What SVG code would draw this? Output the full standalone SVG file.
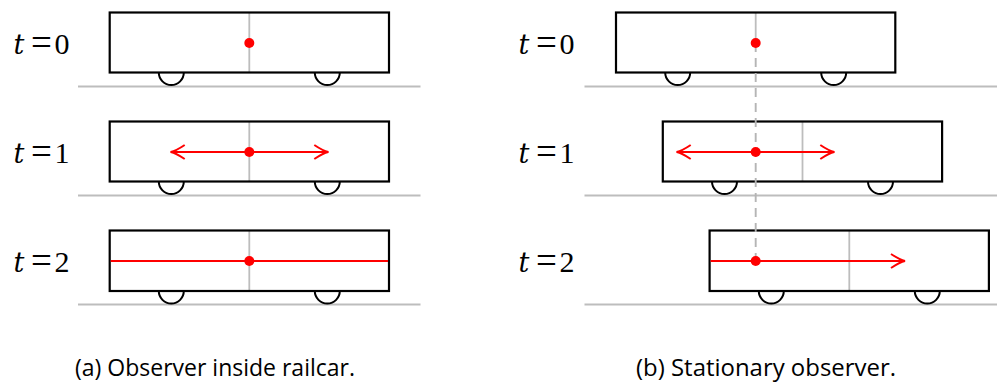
<svg xmlns="http://www.w3.org/2000/svg" width="997" height="383" viewBox="0 0 997 383">
<style>
.bg{fill:#ffffff}
.car{fill:none;stroke:#000;stroke-width:2.2}
.wheel{fill:none;stroke:#000;stroke-width:2}
.mid{stroke:#bdbdbd;stroke-width:1.8;fill:none}
.ground{stroke:#bdbdbd;stroke-width:1.8;fill:none}
.dash{stroke:#b5b5b5;stroke-width:1.9;fill:none;stroke-dasharray:9 6}
.ray{stroke:#ff0000;stroke-width:2;fill:none}
.dot{fill:#ff0000}
.lbl{font-family:"Liberation Serif","DejaVu Serif",serif;font-size:30px;fill:#000;text-anchor:middle}
.it{font-family:"DejaVu Serif","Liberation Serif",serif;font-style:italic;font-size:27px}
.eq{font-size:37px}
.cap{font-family:"Open Sans","Noto Sans",sans-serif;font-size:24px;fill:#000}
</style>
<defs>
<marker id="ah" viewBox="-16 -9 18 18" refX="0" refY="0" markerWidth="18" markerHeight="18" markerUnits="userSpaceOnUse" orient="auto-start-reverse">
<path d="M-14,-7 Q-5,-1 0,0 Q-5,1 -14,7" fill="none" stroke="#ff0000" stroke-width="2"/>
</marker>
</defs>
<rect class="bg" x="0" y="0" width="997" height="383"/>

<g id="labels">
<text class="lbl it" x="19" y="54">t</text><text class="lbl eq" x="41.5" y="55">=</text><text class="lbl" x="62" y="54">0</text>
<text class="lbl it" x="19" y="163">t</text><text class="lbl eq" x="41.5" y="164">=</text><text class="lbl" x="62" y="163">1</text>
<text class="lbl it" x="19" y="272">t</text><text class="lbl eq" x="41.5" y="273">=</text><text class="lbl" x="62" y="272">2</text>
<text class="lbl it" x="524" y="54">t</text><text class="lbl eq" x="546.5" y="55">=</text><text class="lbl" x="567" y="54">0</text>
<text class="lbl it" x="524" y="163">t</text><text class="lbl eq" x="546.5" y="164">=</text><text class="lbl" x="567" y="163">1</text>
<text class="lbl it" x="524" y="272">t</text><text class="lbl eq" x="546.5" y="273">=</text><text class="lbl" x="567" y="272">2</text>
</g>

<g id="grounds">
<line class="ground" x1="78" y1="86.5" x2="420.5" y2="86.5"/>
<line class="ground" x1="78" y1="195.5" x2="420.5" y2="195.5"/>
<line class="ground" x1="78" y1="304.5" x2="420.5" y2="304.5"/>
<line class="ground" x1="584.5" y1="86.5" x2="997" y2="86.5"/>
<line class="ground" x1="584.5" y1="195.5" x2="997" y2="195.5"/>
<line class="ground" x1="584.5" y1="304.5" x2="997" y2="304.5"/>
</g>

<g id="car-a0">
<line class="mid" x1="249.3" y1="12.5" x2="249.3" y2="72.5"/>
<rect class="car" x="109.7" y="12.5" width="279.3" height="60"/>
<path class="wheel" d="M158.8,72.5 A12.5,12.5 0 0 0 183.8,72.5"/>
<path class="wheel" d="M314.8,72.5 A12.5,12.5 0 0 0 339.8,72.5"/>
<circle class="dot" cx="249.3" cy="43" r="5"/>
</g>
<g id="car-a1">
<line class="mid" x1="249.3" y1="121.5" x2="249.3" y2="181.5"/>
<rect class="car" x="109.7" y="121.5" width="279.3" height="60"/>
<path class="wheel" d="M158.8,181.5 A12.5,12.5 0 0 0 183.8,181.5"/>
<path class="wheel" d="M314.8,181.5 A12.5,12.5 0 0 0 339.8,181.5"/>
</g>
<g id="car-a2">
<line class="mid" x1="249.3" y1="230.5" x2="249.3" y2="290.5"/>
<rect class="car" x="109.7" y="230.5" width="279.3" height="60.5"/>
<path class="wheel" d="M158.8,291 A12.5,12.5 0 0 0 183.8,291"/>
<path class="wheel" d="M314.8,291 A12.5,12.5 0 0 0 339.8,291"/>
</g>

<g id="car-b0">
<line class="mid" x1="755.7" y1="12.5" x2="755.7" y2="43"/>
<rect class="car" x="616" y="12.5" width="279.3" height="60"/>
<path class="wheel" d="M665.2,72.5 A12.5,12.5 0 0 0 690.2,72.5"/>
<path class="wheel" d="M821.2,72.5 A12.5,12.5 0 0 0 846.2,72.5"/>
</g>
<g id="car-b1">
<line class="mid" x1="802.5" y1="121.5" x2="802.5" y2="181.5"/>
<rect class="car" x="662.8" y="121.5" width="279.3" height="60"/>
<path class="wheel" d="M712,181.5 A12.5,12.5 0 0 0 737,181.5"/>
<path class="wheel" d="M868,181.5 A12.5,12.5 0 0 0 893,181.5"/>
</g>
<g id="car-b2">
<line class="mid" x1="849.3" y1="230.5" x2="849.3" y2="290.5"/>
<rect class="car" x="709.6" y="230.5" width="279.3" height="60.5"/>
<path class="wheel" d="M758.8,291 A12.5,12.5 0 0 0 783.8,291"/>
<path class="wheel" d="M914.8,291 A12.5,12.5 0 0 0 939.8,291"/>
</g>

<g id="connectors">
<line class="dash" x1="755.7" y1="43" x2="755.7" y2="261"/>
<line class="ray" x1="249.3" y1="152" x2="328.3" y2="152" marker-end="url(#ah)"/>
<line class="ray" x1="249.3" y1="152" x2="170.7" y2="152" marker-end="url(#ah)"/>
<line class="ray" x1="110.7" y1="261" x2="388" y2="261"/>
<line class="ray" x1="755.7" y1="152" x2="834.3" y2="152" marker-end="url(#ah)"/>
<line class="ray" x1="755.7" y1="152" x2="676.7" y2="152" marker-end="url(#ah)"/>
<line class="ray" x1="710.6" y1="261" x2="905" y2="261" marker-end="url(#ah)"/>
</g>

<g id="dots">
<circle class="dot" cx="249.3" cy="152" r="5"/>
<circle class="dot" cx="249.3" cy="261" r="5"/>
<circle class="dot" cx="755.7" cy="43" r="5"/>
<circle class="dot" cx="755.7" cy="152" r="5"/>
<circle class="dot" cx="755.7" cy="261" r="5"/>
</g>

<g id="captions">
<text class="cap" x="75" y="376" textLength="280" lengthAdjust="spacingAndGlyphs">(a) Observer inside railcar.</text>
<text class="cap" x="636" y="376" textLength="260" lengthAdjust="spacingAndGlyphs">(b) Stationary observer.</text>
</g>
</svg>
